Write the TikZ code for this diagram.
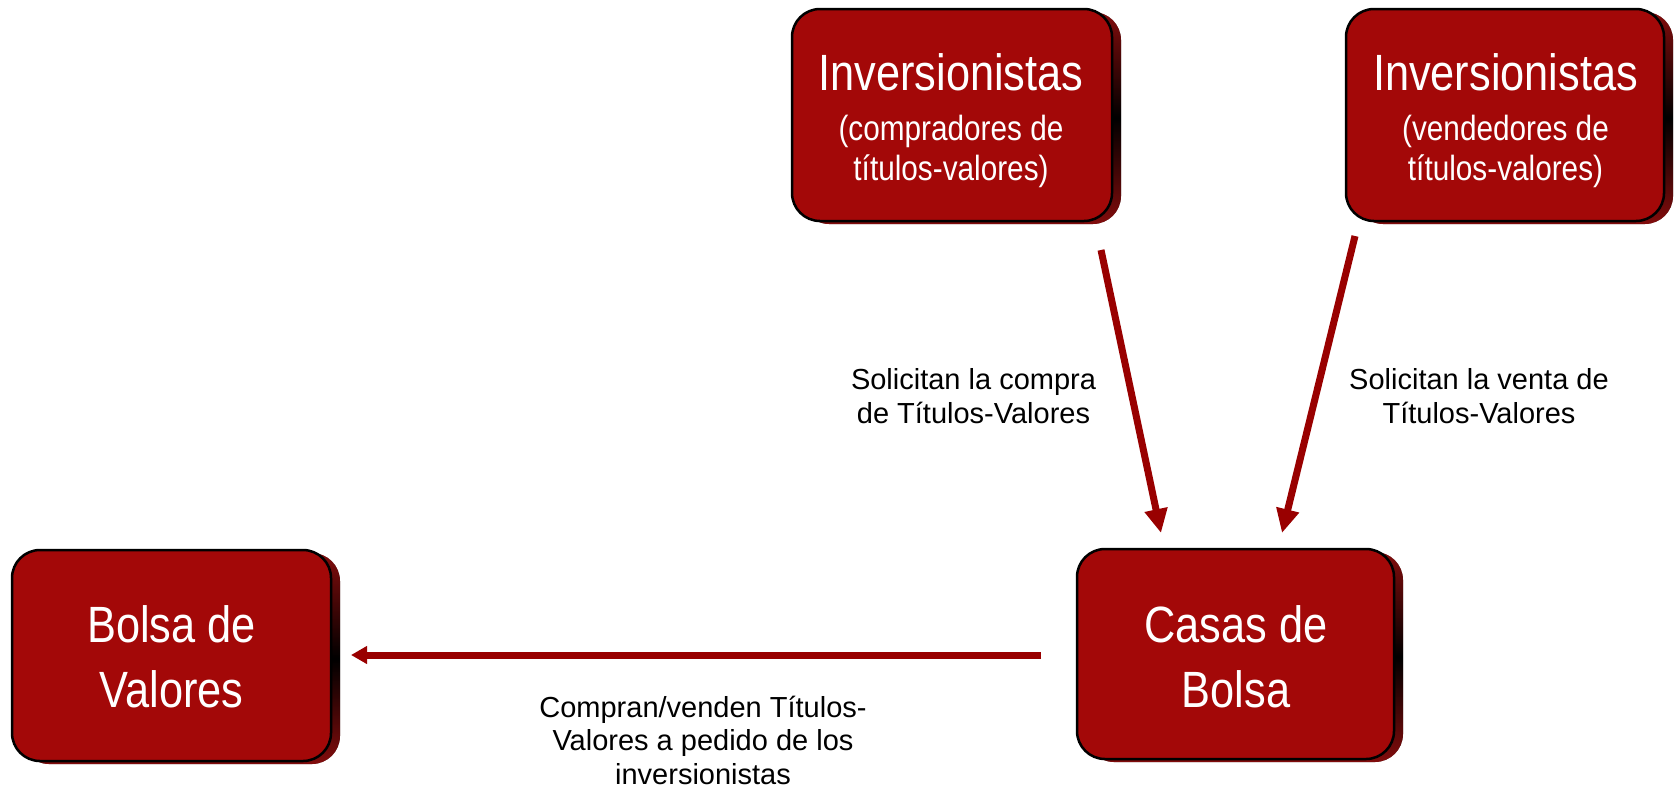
\documentclass[tikz,border=0pt]{standalone}
\usepackage{fontspec}
\setmainfont{Liberation Sans}
\newfontfamily\boxfont[FakeStretch=0.85]{Liberation Sans}
\usetikzlibrary{arrows.meta,shadows}
\definecolor{boxred}{RGB}{163,8,8}
\definecolor{arrred}{RGB}{153,0,0}
\definecolor{shadered}{RGB}{130,12,12}
\begin{document}
\begin{tikzpicture}[x=1pt,y=-1pt,
  box/.style={rectangle, rounded corners=28pt, draw=black, line width=2.5pt, fill=boxred, inner sep=0pt,
    drop shadow={shadow xshift=9pt, shadow yshift=-3pt, opacity=1, top color=shadered, bottom color=shadered, middle color=black}},
  ttl/.style={text=white, font=\boxfont\fontsize{51}{64.5}\selectfont, align=center, anchor=base, inner sep=0pt},
  sub/.style={text=white, font=\boxfont\fontsize{35}{40}\selectfont, align=center, anchor=base, inner sep=0pt},
  lbl/.style={text=black, font=\fontsize{29}{33.5}\selectfont, align=center, anchor=base, inner sep=0pt},
  arr/.style={draw=arrred, line width=7pt, -{Triangle[width=22pt,length=24pt]}},
  harr/.style={draw=arrred, line width=7pt, -{Triangle[width=17pt,length=16pt]}}
]
\useasboundingbox (0,0) rectangle (1677,788);
\node[box, minimum width=320pt, minimum height=212pt] (inv1) at (952,115) {};
\node[box, minimum width=318pt, minimum height=212pt] (inv2) at (1505,115) {};
\node[box, minimum width=317pt, minimum height=210pt] (casas) at (1235.5,654) {};
\node[box, minimum width=319pt, minimum height=211pt] (bolsa) at (171.5,655.5) {};
\node[ttl] (inv1a) at (951,90) {Inversionistas};
\node[sub] (inv1b) at (951,180) {(compradores de\\títulos-valores)};
\node[ttl] (inv2a) at (1505.5,90) {Inversionistas};
\node[sub] (inv2b) at (1505.5,180) {(vendedores de\\títulos-valores)};
\node[ttl] (casast) at (1236,707) {Casas de\\Bolsa};
\node[ttl] (bolsat) at (171.5,707) {Bolsa de\\Valores};
\node[lbl] (l1) at (973.5,423) {Solicitan la compra\\de Títulos-Valores};
\node[lbl] (l2) at (1479,423) {Solicitan la venta de\\Títulos-Valores};
\node[lbl] (l3) at (703,784) {Compran/venden Títulos-\\Valores a pedido de los\\inversionistas};
\coordinate (a1s) at (1101,250);
\coordinate (a1e) at (1161,533);
\coordinate (a2s) at (1355,236);
\coordinate (a2e) at (1282,533);
\coordinate (a3s) at (1041,655);
\coordinate (a3e) at (351,655);
\draw[arr] (a1s) -- (a1e);
\draw[arr] (a2s) -- (a2e);
\draw[harr] (a3s) -- (a3e);
\end{tikzpicture}
\end{document}
